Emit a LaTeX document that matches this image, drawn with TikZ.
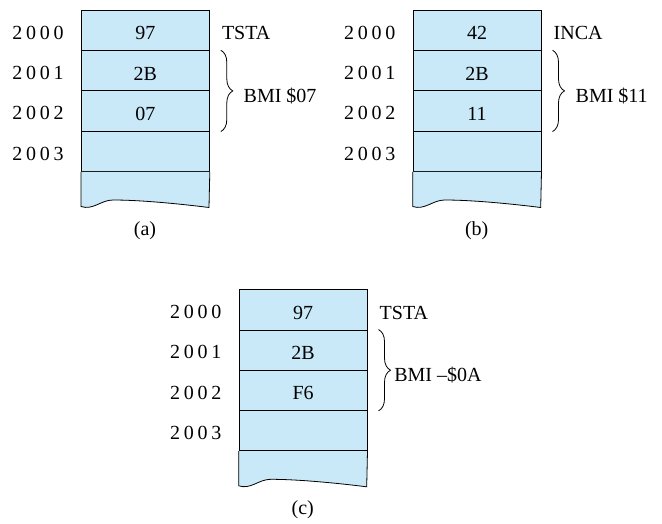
\documentclass[tikz,border=0pt]{standalone}
\usepackage{fontspec}
\setmainfont{Liberation Serif}
\usetikzlibrary{decorations.pathreplacing}
\definecolor{cellblue}{HTML}{C9E9F8}
\newcommand\sd[4]{#1\kern3.7pt#2\kern3.7pt#3\kern3.7pt#4}
\tikzset{
  cell/.style={draw=black, line width=0.8pt, fill=cellblue, minimum width=128pt,
    minimum height=40.25pt, inner sep=0pt, anchor=north west, text height=18.5pt, text depth=0pt},
  addrlbl/.style={inner sep=0pt, text height=18.5pt, text depth=0pt},
  instr/.style={anchor=west, inner sep=0pt, text height=18.5pt, text depth=0pt},
  bracelines/.style={decorate, decoration={brace, amplitude=12pt}, line width=0.8pt},
  caption/.style={inner sep=0pt}
}
\newcommand\panel[9]{%
\begin{scope}[shift={#2}]
  \node[cell] (#1c0) at (0,0) {#3};
  \node[cell] (#1c1) at (0,40.25) {#4};
  \node[cell] (#1c2) at (0,80.5) {#5};
  \node[cell] (#1c3) at (0,120.75) {};
  \filldraw[fill=cellblue, line width=0.8pt] (#1c3.south west) -- (0,196.5)
    .. controls (12,200.5) and (20,190) .. (32,190)
    .. controls (60,190) and (100,194) .. (128,197.5) -- (#1c3.south east);
  \node[addrlbl] (#1a0) at (-43,20.125) {\sd2000};
  \node[addrlbl] (#1a1) at (-43,60.375) {\sd2001};
  \node[addrlbl] (#1a2) at (-43,100.625) {\sd2002};
  \node[addrlbl] (#1a3) at (-43,140.875) {\sd2003};
  \node[instr] (#1i) at ([xshift=12pt]#1c0.east) {#6};
  \draw[bracelines] ([xshift=11pt]#1c1.north east) -- ([xshift=11pt]#1c2.south east);
  \node[instr] (#1b) at ([xshift=#8pt, yshift=-1.5pt]#1c1.south east) {#7};
  \node[caption] (#1cap) at (64,220.7) {#9};
\end{scope}}
\begin{document}
\begin{tikzpicture}[x=1pt, y=-1pt, font=\fontsize{20}{24}\selectfont]
\useasboundingbox (0,0) rectangle (662,524);
\panel{a}{(81,10)}{97}{2B}{07}{TSTA}{BMI \$07}{33.7}{(a)}
\panel{b}{(412.7,10)}{42}{2B}{11}{INCA}{BMI \$11}{34}{(b)}
\panel{c}{(238.7,289.3)}{97}{2B}{F6}{TSTA}{BMI –\$0A}{26.6}{(c)}
\end{tikzpicture}
\end{document}
